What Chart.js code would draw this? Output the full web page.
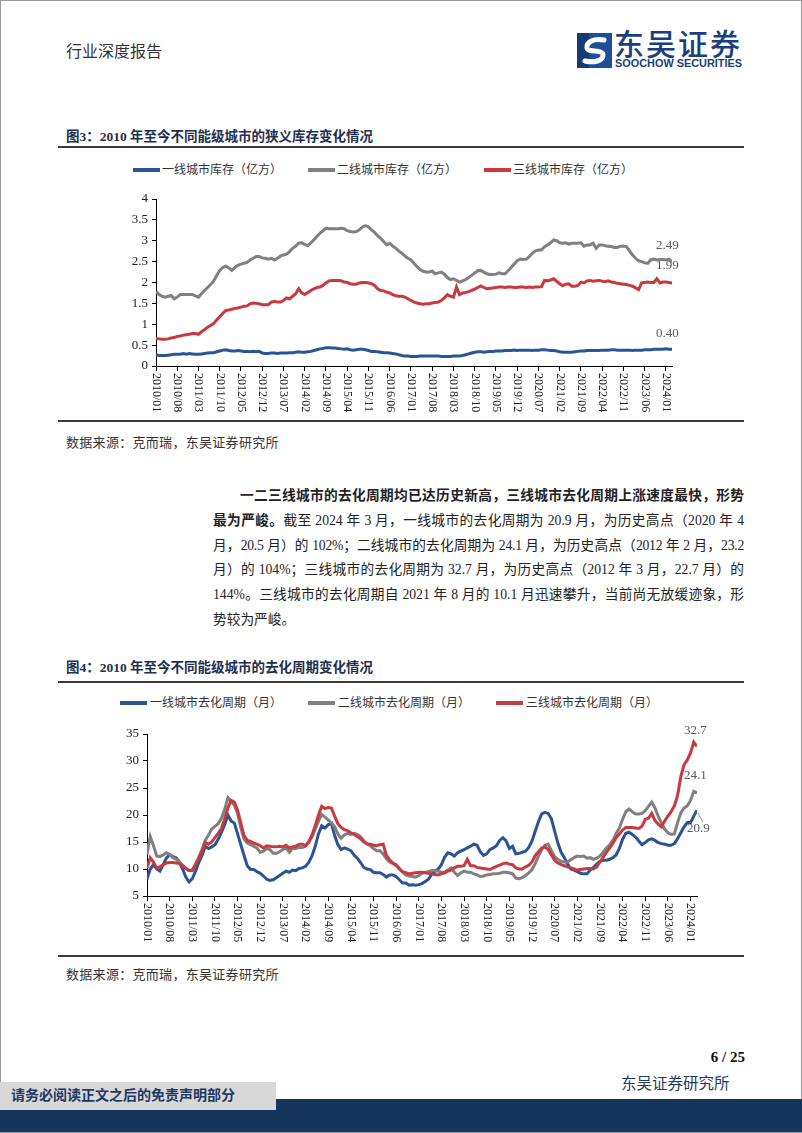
<!DOCTYPE html>
<html lang="zh-CN">
<head>
<meta charset="utf-8">
<title>行业深度报告</title>
<script src="https://cdn.jsdelivr.net/npm/chart.js@4.4.1/dist/chart.umd.min.js"></script>
<style>
  html, body { margin: 0; padding: 0; }
  body { width: 802px; height: 1133px; position: relative; overflow: hidden; background: #fff;
         font-family: "Liberation Serif", "Noto Sans CJK SC", serif; color: #222; }
  .frame { position: absolute; left: 0; top: 0; width: 800px; height: 1131px; border: 1px solid #9a9a9a; }
  .abs { position: absolute; white-space: nowrap; }
  .head { left: 66px; top: 43px; font-size: 16px; line-height: 18px; color: #333; }
  .brand { left: 614px; top: 27px; font-family: "Noto Sans CJK SC"; font-size: 30px; line-height: 30px; font-weight: 500; color: #1b3f7c; letter-spacing: 2px; }
  .brand-en { left: 615px; top: 58px; font-family: "Liberation Sans"; font-weight: bold; font-size: 10.9px; line-height: 11px; color: #1b3f7c; }
  .fig { left: 66px; font-size: 13.5px; line-height: 16px; font-weight: bold; color: #1f2f4f; }
  .rule { left: 58px; width: 686px; height: 2px; background: #3a3a3a; }
  .src { left: 66px; font-size: 13px; line-height: 16px; color: #333; letter-spacing: 0.3px; }
  .leg { font-size: 12px; line-height: 14px; color: #333; }
  .sw { position: absolute; width: 27px; height: 4px; }
  .para { position: absolute; left: 213px; top: 484px; width: 531px; font-size: 13.7px; line-height: 24.8px; color: #222; }
  .para div { text-align: justify; text-align-last: justify; white-space: nowrap; }
  .para div.last { text-align-last: left; }
  .para div.tight { letter-spacing: -0.25px; }
  canvas { position: absolute; }
</style>
</head>
<body>
<div class="frame"></div>

<div class="abs head">行业深度报告</div>
<svg class="abs" style="left:577px;top:33px" width="35" height="35" viewBox="0 0 35 35">
  <rect width="35" height="35" fill="#1d4f9c"/>
  <rect x="0" y="0" width="12" height="35" fill="#163a73"/>
  <path d="M27 7 C17 5 9 9 10 15 C11 20 26 16 26 22 C26 28 17 30 8 28" stroke="#fff" stroke-width="5" fill="none" stroke-linecap="round"/>
</svg>
<div class="abs brand">东吴证券</div>
<div class="abs brand-en">SOOCHOW SECURITIES</div>

<div class="abs fig" style="top:129px">图3：2010 年至今不同能级城市的狭义库存变化情况</div>
<div class="abs rule" style="top:146px"></div>

<div class="sw" style="left:133px;top:168px;background:#2b5494"></div>
<div class="abs leg" style="left:162px;top:163px">一线城市库存（亿方）</div>
<div class="sw" style="left:308px;top:168px;background:#808080"></div>
<div class="abs leg" style="left:337px;top:163px">二线城市库存（亿方）</div>
<div class="sw" style="left:484px;top:168px;background:#c9393f"></div>
<div class="abs leg" style="left:513px;top:163px">三线城市库存（亿方）</div>

<canvas id="stockChart" width="620" height="235" style="left:100px;top:185px;width:620px;height:235px"></canvas>

<div class="abs rule" style="top:420px"></div>
<div class="abs src" style="top:435px">数据来源：克而瑞，东吴证券研究所</div>

<div class="para">
  <div style="padding-left:27px"><b>一二三线城市的去化周期均已达历史新高，三线城市去化周期上涨速度最快，形势</b></div>
  <div><b>最为严峻。</b>截至 2024 年 3 月，一线城市的去化周期为 20.9 月，为历史高点（2020 年 4</div>
  <div class="tight">月，20.5 月）的 102%；二线城市的去化周期为 24.1 月，为历史高点（2012 年 2 月，23.2</div>
  <div>月）的 104%；三线城市的去化周期为 32.7 月，为历史高点（2012 年 3 月，22.7 月）的</div>
  <div>144%。三线城市的去化周期自 2021 年 8 月的 10.1 月迅速攀升，当前尚无放缓迹象，形</div>
  <div class="last">势较为严峻。</div>
</div>

<div class="abs fig" style="top:660px">图4：2010 年至今不同能级城市的去化周期变化情况</div>
<div class="abs rule" style="top:681px"></div>

<div class="sw" style="left:120px;top:701px;background:#2b5494"></div>
<div class="abs leg" style="left:150px;top:696px">一线城市去化周期（月）</div>
<div class="sw" style="left:308px;top:701px;background:#808080"></div>
<div class="abs leg" style="left:338px;top:696px">二线城市去化周期（月）</div>
<div class="sw" style="left:496px;top:701px;background:#c9393f"></div>
<div class="abs leg" style="left:526px;top:696px">三线城市去化周期（月）</div>

<canvas id="cycleChart" width="640" height="231" style="left:90px;top:720px;width:640px;height:231px"></canvas>

<div class="abs rule" style="top:955px"></div>
<div class="abs src" style="top:967px">数据来源：克而瑞，东吴证券研究所</div>

<div class="abs" style="right:57px;top:1048px;font-size:15px;font-weight:bold;line-height:18px;color:#111">6 / 25</div>
<div class="abs" style="left:621px;top:1075px;font-size:15.5px;line-height:18px;color:#1f3864">东吴证券研究所</div>
<div class="abs" style="left:0;top:1099px;width:802px;height:33px;background:#17365d"></div>
<div class="abs" style="left:0;top:1082px;width:276px;height:28px;background:#d8d8d8"></div>
<div class="abs" style="left:11px;top:1087px;font-size:14px;line-height:18px;color:#1f3864;font-weight:bold">请务必阅读正文之后的免责声明部分</div>

<script>
// x-axis labels, one every 7 months from 2010/01 to 2024/01 (data runs to 2024/03)
const tickLabels = ["2010/01","2010/08","2011/03","2011/10","2012/05","2012/12","2013/07","2014/02","2014/09",
  "2015/04","2015/11","2016/06","2017/01","2017/08","2018/03","2018/10","2019/05","2019/12","2020/07",
  "2021/02","2021/09","2022/04","2022/11","2023/06","2024/01"];

// 狭义库存（亿方）, monthly 2010/01 - 2024/03
const tier1Stock = [
  0.27,0.25,0.25,0.25,0.26,0.27,0.28,0.28,0.28,0.30, 0.28,0.30,0.29,0.28,0.28,0.29,0.30,0.31,0.32,0.32,
  0.34,0.36,0.38,0.39,0.37,0.36,0.36,0.37,0.36,0.35, 0.35,0.34,0.35,0.34,0.35,0.31,0.30,0.30,0.31,0.31,
  0.30,0.31,0.31,0.31,0.32,0.32,0.33,0.34,0.33,0.33, 0.34,0.35,0.37,0.39,0.41,0.42,0.44,0.44,0.43,0.43,
  0.42,0.41,0.40,0.41,0.39,0.38,0.39,0.40,0.40,0.39, 0.37,0.35,0.35,0.34,0.33,0.32,0.32,0.31,0.30,0.29,
  0.27,0.25,0.24,0.24,0.23,0.23,0.23,0.24,0.24,0.24, 0.24,0.24,0.24,0.24,0.23,0.23,0.23,0.23,0.24,0.24,
  0.24,0.25,0.27,0.29,0.31,0.33,0.34,0.34,0.33,0.34, 0.35,0.35,0.36,0.36,0.36,0.37,0.37,0.37,0.38,0.37,
  0.38,0.38,0.38,0.38,0.37,0.38,0.38,0.39,0.39,0.38, 0.37,0.37,0.36,0.34,0.33,0.33,0.33,0.33,0.34,0.35,
  0.36,0.36,0.37,0.37,0.37,0.37,0.37,0.38,0.38,0.38, 0.39,0.39,0.38,0.38,0.38,0.38,0.38,0.37,0.38,0.38,
  0.38,0.39,0.39,0.39,0.40,0.40,0.40,0.40,0.41,0.40,0.40];
const tier2Stock = [
  1.79,1.71,1.67,1.65,1.67,1.69,1.61,1.65,1.71,1.71, 1.71,1.71,1.71,1.68,1.65,1.73,1.81,1.88,1.95,2.04,
  2.17,2.29,2.36,2.39,2.35,2.29,2.36,2.41,2.44,2.46, 2.48,2.54,2.58,2.62,2.62,2.59,2.58,2.56,2.58,2.54,
  2.58,2.63,2.66,2.68,2.74,2.82,2.87,2.94,2.95,2.91, 2.88,2.95,3.02,3.10,3.18,3.24,3.30,3.29,3.29,3.29,
  3.29,3.30,3.29,3.24,3.22,3.21,3.22,3.26,3.33,3.36, 3.33,3.26,3.20,3.12,3.06,2.98,2.90,2.94,2.87,2.82,
  2.75,2.70,2.63,2.58,2.54,2.46,2.38,2.31,2.27,2.25, 2.25,2.27,2.21,2.23,2.25,2.20,2.12,2.07,2.09,2.05,
  2.01,2.04,2.07,2.12,2.17,2.23,2.28,2.29,2.25,2.21, 2.19,2.19,2.20,2.23,2.21,2.21,2.28,2.36,2.44,2.52,
  2.56,2.55,2.56,2.62,2.70,2.76,2.78,2.78,2.86,2.90, 2.95,3.02,3.00,2.95,2.94,2.95,2.92,2.94,2.94,2.94,
  2.95,2.87,2.90,2.90,2.94,2.82,2.90,2.90,2.88,2.87, 2.86,2.84,2.84,2.87,2.87,2.86,2.76,2.66,2.58,2.52,
  2.50,2.47,2.46,2.54,2.56,2.54,2.55,2.55,2.54,2.56,2.49];
const tier3Stock = [
  0.66,0.65,0.64,0.64,0.65,0.67,0.68,0.71,0.72,0.74, 0.75,0.76,0.78,0.78,0.76,0.82,0.87,0.93,0.97,1.02,
  1.10,1.18,1.26,1.33,1.34,1.36,1.38,1.39,1.41,1.43, 1.44,1.49,1.51,1.50,1.49,1.47,1.47,1.47,1.53,1.55,
  1.53,1.53,1.57,1.63,1.61,1.67,1.73,1.85,1.75,1.71, 1.76,1.81,1.85,1.88,1.89,1.93,1.99,2.04,2.05,2.05,
  2.05,2.04,2.01,2.00,1.97,1.96,1.96,1.99,2.00,2.00, 1.99,1.97,1.93,1.85,1.81,1.80,1.77,1.75,1.71,1.68,
  1.67,1.67,1.65,1.61,1.57,1.53,1.51,1.49,1.48,1.49, 1.49,1.51,1.52,1.53,1.57,1.63,1.71,1.67,1.65,1.89,
  1.71,1.75,1.76,1.78,1.81,1.84,1.88,1.92,1.88,1.85, 1.86,1.87,1.88,1.89,1.89,1.88,1.89,1.89,1.88,1.88,
  1.89,1.89,1.88,1.89,1.88,1.89,1.89,1.90,2.05,2.04, 2.06,2.09,2.03,1.97,1.92,1.96,1.97,1.91,1.91,1.93,
  2.01,1.99,2.04,2.05,2.03,2.04,2.05,2.03,2.02,2.04, 2.01,2.00,1.98,1.97,1.96,1.95,1.93,1.91,1.87,1.83,
  1.99,2.00,2.01,2.00,2.00,2.09,1.99,2.01,2.01,2.00,1.99];

// 去化周期（月）, monthly 2010/01 - 2024/03
const tier1Cycle = [
  8.1,10.0,10.8,10.0,9.6,10.8,12.0,12.7,12.3,12.1, 11.3,10.0,8.5,7.6,8.2,9.6,11.2,12.5,14.2,13.8,
  14.1,14.5,15.5,16.8,18.2,20.0,18.9,18.5,16.5,14.5, 12.5,10.6,9.9,9.9,9.5,9.2,8.7,8.1,7.9,8.0,
  8.4,8.8,9.2,9.6,9.4,9.8,9.7,10.1,10.2,10.5, 11.2,12.4,14.2,16.5,18.0,17.6,18.2,18.5,16.2,14.5,
  13.6,13.9,13.7,13.4,12.6,12.0,11.2,10.3,10.0,9.9, 9.4,9.3,9.3,9.0,8.5,8.9,8.9,8.6,8.0,7.4,
  7.4,7.0,7.1,7.0,7.1,7.3,7.7,8.1,9.0,9.6, 10.0,10.8,12.2,13.0,12.8,12.4,13.0,13.3,13.6,13.9,
  14.2,14.6,14.4,13.2,12.5,12.8,13.6,13.9,14.3,15.3, 15.8,15.2,13.8,14.2,12.8,12.9,13.1,13.3,14.0,15.2,
  17.0,18.8,20.2,20.5,20.3,19.3,17.0,14.8,13.1,12.1, 10.9,10.0,9.8,9.5,9.2,9.1,9.1,9.8,10.3,10.9,
  11.4,11.6,11.6,11.8,12.1,12.6,13.8,15.5,16.6,16.8, 16.4,15.9,15.2,14.5,14.9,15.4,15.6,15.3,14.9,14.7,
  14.6,14.4,14.4,14.7,15.6,16.7,17.8,18.6,18.6,19.8,20.9];
const tier2Cycle = [
  12.7,16.0,14.3,12.4,12.3,12.6,13.0,12.7,12.1,11.8, 11.3,10.7,10.1,9.7,9.8,10.9,12.2,13.6,15.3,16.3,
  17.4,17.9,18.4,19.4,21.0,23.2,22.5,21.8,20.3,17.6, 15.5,14.8,14.5,14.2,13.9,13.1,13.3,13.8,13.6,12.9,
  12.9,13.2,13.6,13.9,13.1,13.8,13.8,14.0,14.0,14.3, 15.0,15.9,17.4,18.8,20.1,19.6,19.1,18.5,17.8,16.5,
  15.7,16.3,16.6,16.4,16.6,16.4,16.0,15.3,14.6,14.3, 13.8,13.4,13.4,12.8,11.9,11.3,11.0,10.6,10.0,9.4,
  8.9,8.7,8.6,8.5,8.8,9.2,9.4,9.5,9.7,9.7, 9.6,9.4,9.4,9.8,10.2,9.4,8.8,9.3,9.6,9.4,
  9.4,9.1,8.9,8.6,8.7,8.9,9.0,9.1,9.1,9.2, 9.4,9.4,9.3,9.1,8.3,8.2,8.4,8.8,9.3,9.9,
  11.0,12.4,13.6,14.4,14.6,13.4,12.3,11.8,11.4,11.3, 11.3,11.7,12.1,12.4,12.3,12.4,12.0,12.1,11.8,12.0,
  12.4,13.1,13.9,14.5,15.3,16.6,17.6,19.2,20.6,21.1, 20.6,20.2,20.2,20.3,20.8,21.6,22.4,21.3,19.8,18.5,
  17.4,16.7,16.4,16.5,18.6,20.4,21.3,21.7,22.7,24.4,24.1];
const tier3Cycle = [
  10.2,12.1,11.3,10.2,10.4,10.8,11.1,11.2,11.2,11.1, 11.0,10.6,10.1,9.7,9.7,10.8,11.9,13.3,14.9,14.6,
  15.0,15.8,16.6,17.5,19.3,21.3,22.7,22.4,20.9,18.5, 16.2,15.3,15.1,14.8,14.6,14.3,13.9,14.3,14.2,14.1,
  14.1,14.2,14.1,14.4,13.9,14.1,14.2,14.6,14.6,14.3, 15.0,16.3,18.0,20.0,21.6,21.2,21.4,21.3,19.8,18.4,
  17.7,17.3,17.1,16.7,16.4,16.0,15.6,15.0,14.7,14.6, 14.4,14.3,14.5,14.6,12.5,11.7,11.1,10.8,10.1,9.5,
  9.3,9.1,9.2,9.3,9.4,9.4,9.3,9.2,9.1,9.0, 8.9,9.1,9.3,9.6,9.8,10.2,10.5,10.5,10.6,11.8,
  10.6,10.6,10.3,10.2,10.1,10.0,9.9,10.2,10.5,10.7, 11.0,11.1,10.9,10.8,10.2,10.0,10.0,10.4,10.7,11.3,
  12.5,13.2,13.9,14.1,13.6,12.6,11.6,11.1,10.8,10.6, 10.4,10.2,10.0,9.8,9.9,10.0,10.1,10.1,10.0,10.4,
  11.3,12.2,13.1,13.9,14.8,15.8,16.5,17.2,17.7,17.7, 17.7,17.6,17.5,17.9,19.2,19.4,20.3,19.0,18.3,17.8,
  18.9,19.8,20.6,21.7,23.6,27.1,29.3,30.2,31.5,33.5,32.7];

const BLUE = "#2b5494", GREY = "#808080", RED = "#c9393f";

function pts(arr) { return arr.map((v, i) => ({ x: i, y: v })); }

// month labels drawn top-to-bottom under the axis, as in the source chart
const monthTicks = {
  id: "monthTicks",
  afterDraw(chart) {
    const sx = chart.scales.x, ctx = chart.ctx;
    ctx.save();
    ctx.font = '12px "Liberation Serif"';
    ctx.fillStyle = "#222";
    ctx.textAlign = "left";
    ctx.textBaseline = "middle";
    tickLabels.forEach((t, k) => {
      ctx.save();
      ctx.translate(sx.getPixelForValue(k * 7), sx.top + 7);
      ctx.rotate(Math.PI / 2);
      ctx.fillText(t, 0, 0);
      ctx.restore();
    });
    ctx.restore();
  }
};

// value of the last point next to each line
const endLabels = {
  id: "endLabels",
  afterDatasetsDraw(chart, args, opts) {
    const ctx = chart.ctx;
    ctx.save();
    ctx.font = '13px "Liberation Serif"';
    ctx.fillStyle = "#595959";
    ctx.textAlign = "left";
    ctx.textBaseline = "middle";
    opts.items.forEach(it => {
      const ds = chart.data.datasets[it.ds];
      const meta = chart.getDatasetMeta(it.ds);
      const p = meta.data[meta.data.length - 1];
      const txt = ds.data[ds.data.length - 1].y.toFixed(opts.digits);
      ctx.fillText(txt, p.x + it.dx, p.y + it.dy);
      if (it.leader) {
        ctx.strokeStyle = "#8c8c8c";
        ctx.lineWidth = 1;
        ctx.beginPath();
        ctx.moveTo(p.x + 1, p.y + 3);
        ctx.lineTo(p.x + 6, p.y + it.dy - 6);
        ctx.stroke();
      }
    });
    ctx.restore();
  }
};

function makeChart(id, series, y, box, labels, digits) {
  return new Chart(document.getElementById(id), {
    type: "line",
    data: {
      datasets: series.map(s => ({
        label: s.label, data: pts(s.data), borderColor: s.color, borderWidth: 3,
        pointRadius: 0, tension: 0, fill: false, order: s.order
      }))
    },
    options: {
      responsive: false, animation: false, devicePixelRatio: 1,
      layout: { padding: { top: box.top, right: box.right, left: 0, bottom: 0 } },
      plugins: { legend: { display: false }, tooltip: { enabled: false }, endLabels: { items: labels, digits } },
      scales: {
        x: {
          type: "linear", min: 0, max: 170,
          border: { color: "#000", width: 1 },
          grid: { drawOnChartArea: false, tickLength: 5, color: "#000" },
          ticks: { display: false },
          afterBuildTicks: s => { s.ticks = tickLabels.map((t, k) => ({ value: k * 7 })); },
          afterFit: s => { s.height = box.xh; }
        },
        y: {
          min: y.min, max: y.max,
          border: { color: "#000", width: 1 },
          grid: { drawOnChartArea: false, tickLength: 4, color: "#000" },
          ticks: { stepSize: y.step, color: "#222", padding: 4, font: { size: 13, family: '"Liberation Serif"' },
                   callback: v => String(v) },
          afterFit: s => { s.width = box.yw; }
        }
      }
    },
    plugins: [monthTicks, endLabels]
  });
}

makeChart("stockChart", [
  { label: "一线城市库存（亿方）", data: tier1Stock, color: BLUE, order: 3 },
  { label: "二线城市库存（亿方）", data: tier2Stock, color: GREY, order: 2 },
  { label: "三线城市库存（亿方）", data: tier3Stock, color: RED, order: 1 }
], { min: 0, max: 4, step: 0.5 }, { top: 14, right: 48, yw: 56, xh: 54 }, [
  { ds: 1, dx: -16, dy: -16 },
  { ds: 2, dx: -16, dy: -17 },
  { ds: 0, dx: -16, dy: -16 }
], 2);

makeChart("cycleChart", [
  { label: "一线城市去化周期（月）", data: tier1Cycle, color: BLUE, order: 3 },
  { label: "二线城市去化周期（月）", data: tier2Cycle, color: GREY, order: 2 },
  { label: "三线城市去化周期（月）", data: tier3Cycle, color: RED, order: 1 }
], { min: 5, max: 35, step: 5 }, { top: 14, right: 33, yw: 57, xh: 55 }, [
  { ds: 2, dx: -13, dy: -16 },
  { ds: 1, dx: -13, dy: -17 },
  { ds: 0, dx: -10, dy: 18, leader: true }
], 1);
</script>
</body>
</html>
